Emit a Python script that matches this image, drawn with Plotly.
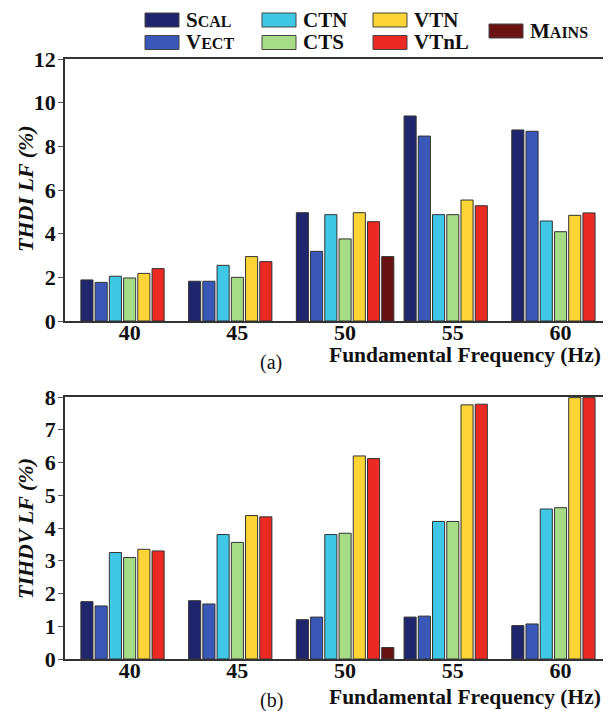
import plotly.graph_objects as go

# The page body has an 8px margin, so the figure is 603x703 and positions are offset.
OFF = 8
W, H = 611 - OFF, 711 - OFF

freqs = ["40", "45", "50", "55", "60"]
series = ["SCAL", "VECT", "CTN", "CTS", "VTN", "VTnL", "MAINS"]
legend_labels = [
    "S<span style='font-size:16px'>CAL</span>",
    "V<span style='font-size:16px'>ECT</span>",
    "CTN", "CTS", "VTN", "VTnL",
    "M<span style='font-size:16px'>AINS</span>",
]
colors = ["#20266e", "#3a58b8", "#3ec8e6", "#a6dc86", "#fdd435", "#ec2a24", "#6a1212"]

# (a) THDI_LF (%)
thdi_scal = [1.88, 1.82, 4.96, 9.39, 8.75]
thdi_vect = [1.77, 1.82, 3.19, 8.47, 8.69]
thdi_ctn = [2.05, 2.55, 4.87, 4.87, 4.58]
thdi_cts = [1.97, 2.00, 3.76, 4.87, 4.09]
thdi_vtn = [2.18, 2.95, 4.96, 5.54, 4.84]
thdi_vtnl = [2.40, 2.72, 4.55, 5.28, 4.95]
thdi_mains = [None, None, 2.95, None, None]

# (b) TIHDV_LF (%)
tihdv_scal = [1.75, 1.78, 1.20, 1.28, 1.02]
tihdv_vect = [1.62, 1.68, 1.28, 1.31, 1.07]
tihdv_ctn = [3.25, 3.80, 3.80, 4.20, 4.58]
tihdv_cts = [3.10, 3.56, 3.84, 4.20, 4.62]
tihdv_vtn = [3.35, 4.38, 6.20, 7.76, 7.98]
tihdv_vtnl = [3.30, 4.34, 6.12, 7.78, 7.98]
tihdv_mains = [None, None, 0.35, None, None]

yticks_a = [0, 2, 4, 6, 8, 10, 12]
yticks_b = [0, 1, 2, 3, 4, 5, 6, 7, 8]

data_a = [thdi_scal, thdi_vect, thdi_ctn, thdi_cts, thdi_vtn, thdi_vtnl, thdi_mains]
data_b = [tihdv_scal, tihdv_vect, tihdv_ctn, tihdv_cts, tihdv_vtn, tihdv_vtnl, tihdv_mains]

SERIF = "Liberation Serif"

fig = go.Figure()
for name, col, va, vb in zip(series, colors, data_a, data_b):
    fig.add_trace(go.Bar(x=freqs, y=va, name=name, marker=dict(color=col, line=dict(color="#333333", width=1)),
                         xaxis="x", yaxis="y", showlegend=False))
    fig.add_trace(go.Bar(x=freqs, y=vb, name=name, marker=dict(color=col, line=dict(color="#333333", width=1)),
                         xaxis="x2", yaxis="y2", showlegend=False))

def px_x(sx):
    return (sx - OFF) / W

def px_y(sy):
    return 1 - (sy - OFF) / H

xdom = [px_x(65), min(1.0, px_x(609))]
dom_a = [px_y(321), px_y(59)]
dom_b = [px_y(659), px_y(397)]

tickfont = dict(family=SERIF, size=22, color="#111111", weight="bold")
xcommon = dict(type="category", range=[-0.6, 4.45], domain=xdom, showline=True, linecolor="#333333",
               linewidth=1.5, mirror=True, ticks="inside", ticklen=8, tickcolor="#888888",
               tickfont=tickfont, layer="below traces", showgrid=False, automargin=False,
               ticklabelstandoff=-9)
ycommon = dict(showline=True, linecolor="#333333", linewidth=1.5, mirror=True, ticks="outside",
               ticklen=5, tickcolor="#555555", tickfont=tickfont, showgrid=False, zeroline=False,
               automargin=False, ticklabelstandoff=-2)

fig.update_layout(
    width=W, height=H, margin=dict(l=0, r=0, t=0, b=0, pad=0),
    paper_bgcolor="white", plot_bgcolor="white",
    barmode="group", bargap=0.075, bargroupgap=0.15,
    xaxis=dict(**xcommon, anchor="y"),
    yaxis=dict(**ycommon, domain=dom_a, range=[0, 12], tickvals=yticks_a, anchor="x"),
    xaxis2=dict(**xcommon, anchor="y2"),
    yaxis2=dict(**ycommon, domain=dom_b, range=[0, 8], tickvals=yticks_b, anchor="x2"),
    yaxis3=dict(overlaying="y", side="right", anchor="x", range=[0, 12], tickvals=yticks_a,
                ticks="inside", ticklen=6, tickcolor="#888888", showticklabels=False,
                showline=False, showgrid=False, zeroline=False, automargin=False),
    yaxis4=dict(overlaying="y2", side="right", anchor="x2", range=[0, 8], tickvals=yticks_b,
                ticks="inside", ticklen=6, tickcolor="#888888", showticklabels=False,
                showline=False, showgrid=False, zeroline=False, automargin=False),
    showlegend=False,
)
# invisible helper traces to activate the right-side tick axes
fig.add_trace(go.Scatter(x=[freqs[0]], y=[0], xaxis="x", yaxis="y3", mode="markers",
                         marker=dict(opacity=0), hoverinfo="skip", showlegend=False))
fig.add_trace(go.Scatter(x=[freqs[0]], y=[0], xaxis="x2", yaxis="y4", mode="markers",
                         marker=dict(opacity=0), hoverinfo="skip", showlegend=False))

annotations = []
shapes = []

# y-axis titles
annotations.append(dict(text="<b><i>THDI LF (%)</i></b>", x=px_x(25), y=px_y(189), xref="paper", yref="paper",
                        xanchor="center", yanchor="middle",
                        textangle=-90, showarrow=False, font=dict(family=SERIF, size=22, color="#111111")))
annotations.append(dict(text="<b><i>TIHDV LF (%)</i></b>", x=px_x(25), y=px_y(529), xref="paper", yref="paper",
                        xanchor="center", yanchor="middle",
                        textangle=-90, showarrow=False, font=dict(family=SERIF, size=22, color="#111111")))
# x-axis titles
for yc in (355, 697):
    annotations.append(dict(text="<b>Fundamental Frequency (Hz)</b>", x=px_x(327), y=px_y(yc), xref="paper",
                            yref="paper", xanchor="left", yanchor="middle", showarrow=False,
                            font=dict(family=SERIF, size=21.5, color="#111111")))
annotations.append(dict(text="(a)", x=px_x(271), y=px_y(362), xref="paper", yref="paper", showarrow=False,
                        xanchor="center", yanchor="middle",
                        font=dict(family=SERIF, size=20, color="#111111")))
annotations.append(dict(text="(b)", x=px_x(271), y=px_y(700), xref="paper", yref="paper", showarrow=False,
                        xanchor="center", yanchor="middle",
                        font=dict(family=SERIF, size=20, color="#111111")))

# legend (three columns of two + MAINS)
leg_pos = [(145, 20), (145, 42.5), (262, 20), (262, 42.5), (373, 20), (373, 42.5), (489, 31)]
for lab, col, (lx, ly) in zip(legend_labels, colors, leg_pos):
    shapes.append(dict(type="rect", xref="paper", yref="paper", x0=px_x(lx), x1=px_x(lx + 34),
                       y0=px_y(ly - 7), y1=px_y(ly + 7), fillcolor=col, line=dict(color="#444444", width=1)))
    annotations.append(dict(text="<b>" + lab + "</b>", x=px_x(lx + 39), y=px_y(ly), xref="paper", yref="paper",
                            xanchor="left", yanchor="middle", showarrow=False,
                            font=dict(family=SERIF, size=21, color="#111111")))

fig.update_layout(annotations=annotations, shapes=shapes)
fig.write_html("out.html")
